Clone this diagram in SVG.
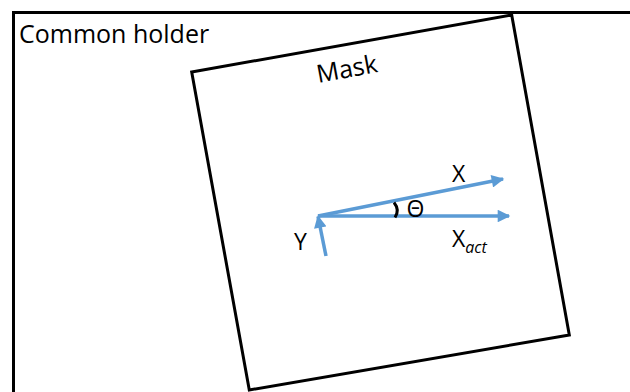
<svg xmlns="http://www.w3.org/2000/svg" width="630" height="392" viewBox="0 0 630 392">
<defs>
<style>
.frame{fill:none;stroke:#000;stroke-width:3;}
.lbl{font-family:"Open Sans","Liberation Sans",sans-serif;fill:#000;}
.axis{fill:none;stroke:#5B9BD5;stroke-width:3.5;}
</style>
<marker id="ah" viewBox="0 0 10 10" refX="9" refY="5" markerWidth="4" markerHeight="3.6" markerUnits="strokeWidth" orient="auto">
<path d="M0,0 L10,5 L0,10 z" fill="#5B9BD5"/>
</marker>
</defs>
<rect width="630" height="392" fill="#fff"/>
<g id="holder">
<rect class="frame" x="13.5" y="12.5" width="640" height="400"/>
<text class="lbl" x="19" y="43.3" font-size="25">Common holder</text>
</g>
<g id="mask">
<polygon class="frame" points="191.7,72 511.7,15 569.3,335 249.3,390"/>
<text class="lbl" x="348.5" y="77.5" font-size="25" text-anchor="middle" transform="rotate(-10.5 348.5 77.5)">Mask</text>
</g>
<g id="connectors">
<line class="axis" x1="318" y1="216" x2="503" y2="179" marker-end="url(#ah)"/>
<line class="axis" x1="318" y1="216" x2="509" y2="216" marker-end="url(#ah)"/>
<line class="axis" x1="326" y1="256" x2="318" y2="216.5" marker-end="url(#ah)"/>
<path d="M394,202.5 Q400,210 395,217.5" fill="none" stroke="#000" stroke-width="3"/>
</g>
<g id="labels">
<text class="lbl" x="452" y="181.7" font-size="23">X</text>
<text class="lbl" x="406.5" y="217" font-size="23">Θ</text>
<text class="lbl" x="452" y="246.7" font-size="23">X<tspan font-size="16" font-style="italic" dy="6">act</tspan></text>
<text class="lbl" x="294" y="250" font-size="23">Y</text>
</g>
</svg>
